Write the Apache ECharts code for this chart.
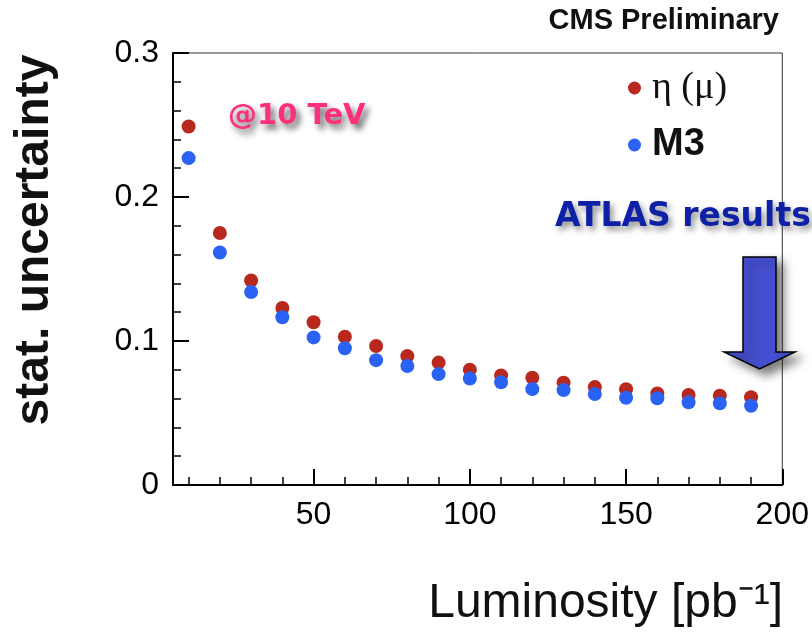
<!DOCTYPE html>
<html>
<head>
<meta charset="utf-8">
<script src="https://cdn.jsdelivr.net/npm/echarts@6/dist/echarts.min.js"></script>
<style>
html,body{margin:0;padding:0;background:#fff;}
#chart{width:812px;height:635px;}
</style>
</head>
<body>
<div id="chart"></div>
<script>
// ---- data ----
const luminosity = [10,20,30,40,50,60,70,80,90,100,110,120,130,140,150,160,170,180,190];
const etaMu = [0.249,0.175,0.142,0.123,0.113,0.103,0.0965,0.0895,0.085,0.080,0.076,0.0745,0.071,0.068,0.0665,0.0636,0.0625,0.062,0.061];
const m3 = [0.227,0.1615,0.134,0.1165,0.1025,0.095,0.0867,0.0826,0.077,0.074,0.0713,0.0666,0.0659,0.0632,0.0606,0.0602,0.0574,0.0567,0.055];
const xMajorTicks = [50,100,150,200];
const xMinorTicks = [10,20,30,40,60,70,80,90,110,120,130,140,160,170,180,190];
const seriesNames = ['η (μ)', 'M3'];
const xTitle = 'Luminosity [pb⁻¹]';
const yTitle = 'stat. uncertainty';

const chart = echarts.init(document.getElementById('chart'), null, {renderer:'canvas'});
const axisFont = 'Liberation Sans, Arial, sans-serif';
const comic = 'DejaVu Sans, sans-serif';

const option = {
  backgroundColor: '#fff',
  animation: false,
  title: {
    text: 'CMS Preliminary',
    right: 33, top: 6, padding: 0,
    textStyle: {fontFamily: axisFont, fontWeight: 'bold', fontSize: 29, color: '#111'}
  },
  legend: {
    orient: 'vertical',
    left: 628, top: 69, padding: 0,
    itemWidth: 25, itemHeight: 13, itemGap: 19,
    icon: 'circle',
    data: [
      {name: seriesNames[0], textStyle: {fontFamily: 'Liberation Serif, serif', fontSize: 38, color: '#111'}},
      {name: seriesNames[1], textStyle: {fontFamily: axisFont, fontWeight: 'bold', fontSize: 38, color: '#111'}}
    ]
  },
  grid: {left: 173, right: 28, top: 53, bottom: 150, show: true, borderColor: '#333', borderWidth: 1},
  xAxis: [
    {
      type: 'value', min: 5, max: 200, position: 'bottom',
      axisLine: {show: true, lineStyle: {color: '#000', width: 2}},
      axisTick: {show: true, inside: true, length: 16, customValues: xMajorTicks, lineStyle: {color: '#000', width: 2}},
      axisLabel: {customValues: xMajorTicks, fontFamily: axisFont, fontSize: 32, color: '#000', margin: 14},
      splitLine: {show: false}
    },
    {
      type: 'value', min: 5, max: 200, position: 'bottom',
      axisLine: {show: false},
      axisTick: {show: true, inside: true, length: 8, customValues: xMinorTicks, lineStyle: {color: '#000', width: 1.5}},
      axisLabel: {show: false},
      splitLine: {show: false}
    }
  ],
  yAxis: {
    type: 'value', min: 0, max: 0.3, interval: 0.1,
    axisLine: {show: true, lineStyle: {color: '#000', width: 2}},
    axisTick: {show: true, inside: true, length: 16, lineStyle: {color: '#000', width: 2}},
    minorTick: {show: true, splitNumber: 5, length: 8, lineStyle: {color: '#000', width: 1.5}},
    axisLabel: {fontFamily: axisFont, fontSize: 32, color: '#000', margin: 14,
      formatter: v => v === 0 ? '0' : String(+v.toFixed(1))},
    splitLine: {show: false},
    minorSplitLine: {show: false}
  },
  series: [
    {
      name: seriesNames[0], type: 'scatter', xAxisIndex: 0,
      symbolSize: 14, itemStyle: {color: '#b9281d', opacity: 1},
      data: luminosity.map((x, i) => [x, etaMu[i]])
    },
    {
      name: seriesNames[1], type: 'scatter', xAxisIndex: 0,
      symbolSize: 14, itemStyle: {color: '#2a63f3', opacity: 1},
      data: luminosity.map((x, i) => [x, m3[i]])
    }
  ],
  graphic: [
    {
      type: 'text', x: 35, y: 240, rotation: Math.PI / 2,
      style: {text: yTitle, fontFamily: axisFont, fontWeight: 'bold', fontSize: 48, fill: '#111', align: 'center', verticalAlign: 'middle'}
    },
    {
      type: 'text', x: 783, y: 604,
      style: {text: xTitle, fontFamily: axisFont, fontSize: 48, fill: '#111', align: 'right', verticalAlign: 'middle'}
    },
    {
      type: 'text', x: 228, y: 116,
      style: {text: '@10 TeV', fontFamily: comic, fontWeight: 'bold', fontSize: 29, fill: '#ff2f7d', align: 'left', verticalAlign: 'middle',
        textShadowColor: 'rgba(0,0,0,0.6)', textShadowBlur: 6, textShadowOffsetX: 4, textShadowOffsetY: 5}
    },
    {
      type: 'text', x: 555, y: 217,
      style: {text: 'ATLAS results', fontFamily: comic, fontWeight: 'bold', fontSize: 33, fill: '#0d20a6', align: 'left', verticalAlign: 'middle',
        textShadowColor: 'rgba(0,0,0,0.45)', textShadowBlur: 6, textShadowOffsetX: 3, textShadowOffsetY: 4}
    },
    {
      type: 'polygon',
      shape: {points: [[743,257],[776,257],[776,352],[795,352],[759.5,369],[724,352],[743,352]]},
      style: {fill: '#464fd2', stroke: '#000', lineWidth: 1.5,
        shadowColor: 'rgba(0,0,0,0.5)', shadowBlur: 10, shadowOffsetX: 7, shadowOffsetY: 6},
      z: 100
    }
  ]
};
chart.setOption(option);
</script>
</body>
</html>
